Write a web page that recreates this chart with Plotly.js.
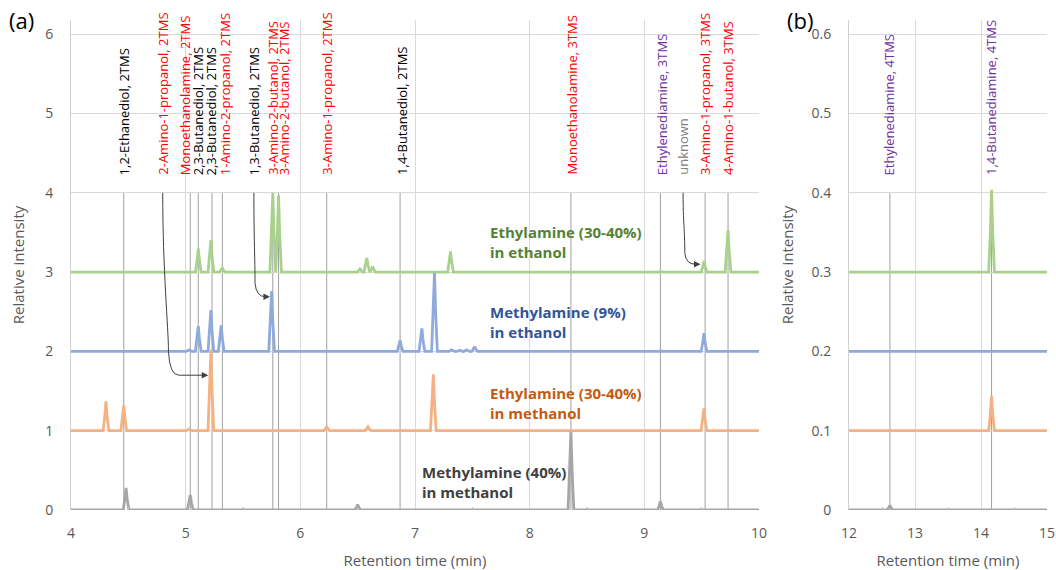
<!DOCTYPE html>
<html>
<head>
<meta charset="utf-8">
<script src="https://cdn.plot.ly/plotly-3.0.1.min.js"></script>
<style>html,body{margin:0;padding:0;background:#fff;}#chart{width:1056px;height:570px;}</style>
</head>
<body>
<div id="chart"></div>
<script>
// ---------- DATA ----------
// Series (baseline offsets in panel a / panel b)
const seriesNames = ["Ethylamine (30-40%) in ethanol", "Methylamine (9%) in ethanol", "Ethylamine (30-40%) in methanol", "Methylamine (40%) in methanol"];
const offsetsA = [3, 2, 1, 0];
const offsetsB = [0.3, 0.2, 0.1, 0];

// Panel (a) peaks: retention times (min) and heights above baseline
const greenA_t = [5.11, 5.22, 5.32, 5.76, 5.81, 6.52, 6.58, 6.63, 7.31, 9.14, 9.52, 9.73];
const greenA_h = [0.30, 0.40, 0.05, 1.00, 0.97, 0.04, 0.18, 0.07, 0.26, 0.01, 0.14, 0.53];
const blueA_t = [5.03, 5.11, 5.22, 5.31, 5.75, 6.87, 7.06, 7.17, 7.32, 7.39, 7.45, 7.52, 9.14, 9.52];
const blueA_h = [0.02, 0.32, 0.52, 0.33, 0.76, 0.14, 0.29, 0.99, 0.02, 0.015, 0.02, 0.06, 0.01, 0.23];
const orangeA_t = [4.305, 4.46, 5.03, 5.22, 6.23, 6.59, 7.16, 9.52];
const orangeA_h = [0.37, 0.32, 0.02, 1.02, 0.05, 0.05, 0.71, 0.28];
const grayA_t = [4.48, 5.04, 5.50, 6.50, 8.36, 8.50, 9.14];
const grayA_h = [0.28, 0.19, 0.01, 0.07, 0.99, 0.01, 0.11];

// Panel (b) peaks
const greenB_t = [14.16];
const greenB_h = [0.104];
const blueB_t = [];
const blueB_h = [];
const orangeB_t = [14.16];
const orangeB_h = [0.044];
const grayB_t = [12.62];
const grayB_h = [0.006];

// Compound marker lines and labels, panel (a)
const markerLinesA = [4.46, 5.04, 5.11, 5.23, 5.32, 5.76, 5.81, 6.23, 6.87, 8.36, 9.14, 9.53, 9.73];
const labelTextA = ["1,2-Ethanediol, 2TMS", "2-Amino-1-propanol, 2TMS", "Monoethanolamine, 2TMS", "2,3-Butanediol, 2TMS", "2,3-Butanediol, 2TMS", "1-Amino-2-propanol, 2TMS", "1,3-Butanediol, 2TMS", "3-Amino-2-butanol, 2TMS", "3-Amino-2-butanol, 2TMS", "3-Amino-1-propanol, 2TMS", "1,4-Butanediol, 2TMS", "Monoethanolamine, 3TMS", "Ethylenediamine, 3TMS", "unknown", "3-Amino-1-propanol, 3TMS", "4-Amino-1-butanol, 3TMS"];
const labelPosA = [4.47, 4.80, 5.00, 5.11, 5.225, 5.345, 5.60, 5.76, 5.86, 6.23, 6.886, 8.37, 9.16, 9.34, 9.53, 9.73];
const labelKindA = ["black", "red", "red", "black", "black", "red", "black", "red", "red", "red", "black", "red", "purple", "gray", "red", "red"];

// Panel (b)
const markerLinesB = [12.62, 14.16];
const labelTextB = ["Ethylenediamine, 4TMS", "1,4-Butanediamine, 4TMS"];
const labelPosB = [12.62, 14.16];
const labelKindB = ["purple", "purple"];

// Arrows (label -> peak), data coordinates in panel (a)
const arrowStartX = [4.80, 5.595, 9.338];
const arrowBendX = [4.85, 5.605, 9.353];
const arrowBendY = [2.00, 2.86, 3.24];
const arrowTipX = [5.197, 5.735, 9.49];
const arrowTipY = [1.70, 2.69, 3.10];

// ---------- STYLE ----------
const lineColors = ["#a9d18e", "#8faadc", "#f4b183", "#a6a6a6"];
const textColors = ["#548235", "#2f5597", "#c55a11", "#404040"];
const kindColor = {black: "#000000", red: "#ff0000", purple: "#7030a0", gray: "#808080"};
const FONT = "'Open Sans', sans-serif";
const profOff = [-0.025, -0.01, 0, 0.01, 0.025];
const profFrac = [0, 0.5, 1, 0.5, 0];

function buildTrace(ts, hs, base, x0, x1, scale, color, xa, ya) {
  const x = [x0], y = [base];
  ts.forEach((t, i) => {
    profOff.forEach((o, k) => { x.push(t + o * scale); y.push(base + hs[i] * profFrac[k]); });
  });
  x.push(x1); y.push(base);
  return {x, y, type: "scatter", mode: "lines", xaxis: xa, yaxis: ya,
          line: {color, width: 2.8}, hoverinfo: "skip", showlegend: false};
}

const peaksA = [[greenA_t, greenA_h], [blueA_t, blueA_h], [orangeA_t, orangeA_h], [grayA_t, grayA_h]];
const peaksB = [[greenB_t, greenB_h], [blueB_t, blueB_h], [orangeB_t, orangeB_h], [grayB_t, grayB_h]];
const traces = [];
peaksA.forEach((p, i) => traces.push(buildTrace(p[0], p[1], offsetsA[i], 4, 10, 1, lineColors[i], "x", "y")));
peaksB.forEach((p, i) => traces.push(buildTrace(p[0], p[1], offsetsB[i], 12, 15, 1.74, lineColors[i], "x2", "y2")));

const shapes = [];
markerLinesA.forEach(v => shapes.push({type: "line", xref: "x", yref: "y", x0: v, x1: v, y0: 0, y1: 4, line: {color: "#a0a0a0", width: 1}, layer: "below"}));
markerLinesB.forEach(v => shapes.push({type: "line", xref: "x2", yref: "y2", x0: v, x1: v, y0: 0, y1: 0.4, line: {color: "#a0a0a0", width: 1}, layer: "below"}));
arrowStartX.forEach((sx, i) => {
  const bx = arrowBendX[i], by = arrowBendY[i], tx = arrowTipX[i], ty = arrowTipY[i];
  const path = `M ${sx},4 C ${sx},${(4 + by) / 2} ${bx},${by + 0.3} ${bx},${by} Q ${bx + 0.01},${ty} ${bx + 0.09},${ty} L ${tx - 0.05},${ty}`;
  shapes.push({type: "path", xref: "x", yref: "y", path, line: {color: "#404040", width: 1}});
});

const annotations = [];
labelTextA.forEach((t, i) => annotations.push({xref: "x", yref: "y", x: labelPosA[i], y: 4.2, text: t, textangle: -90,
  showarrow: false, xanchor: "center", yanchor: "bottom", font: {family: FONT, size: 13, color: kindColor[labelKindA[i]]}}));
labelTextB.forEach((t, i) => annotations.push({xref: "x2", yref: "y2", x: labelPosB[i], y: 0.42, text: t, textangle: -90,
  showarrow: false, xanchor: "center", yanchor: "bottom", font: {family: FONT, size: 13, color: kindColor[labelKindB[i]]}}));
arrowTipX.forEach((tx, i) => annotations.push({xref: "x", yref: "y", axref: "x", ayref: "y", x: tx, y: arrowTipY[i],
  ax: tx - 0.06, ay: arrowTipY[i], text: "", showarrow: true, arrowhead: 2, arrowsize: 1.3, arrowwidth: 1, arrowcolor: "#404040", standoff: 0}));

const seriesLabelX = [7.635, 7.635, 7.635, 7.043];
const seriesLabelY = [3.38, 2.375, 1.35, 0.347];
const seriesLabelText = ["Ethylamine (30-40%)<br>in ethanol", "Methylamine (9%)<br>in ethanol", "Ethylamine (30-40%)<br>in methanol", "Methylamine (40%)<br>in methanol"];
seriesLabelText.forEach((t, i) => annotations.push({xref: "x", yref: "y", x: seriesLabelX[i], y: seriesLabelY[i], text: "<b>" + t + "</b>",
  showarrow: false, xanchor: "left", yanchor: "middle", align: "left", font: {family: FONT, size: 15, color: textColors[i]}}));

annotations.push({xref: "paper", yref: "paper", x: 0.007, y: 1.0, xanchor: "left", yanchor: "middle", yshift: 0, text: "(a)", showarrow: false, font: {family: FONT, size: 22, color: "#000"}});
annotations.push({xref: "paper", yref: "paper", x: 0.743, y: 1.0, xanchor: "left", yanchor: "middle", yshift: 0, text: "(b)", showarrow: false, font: {family: FONT, size: 22, color: "#000"}});

const tickFont = {family: FONT, size: 14, color: "#595959"};
const titleFont = {family: FONT, size: 15, color: "#595959"};
const gridC = "#d9d9d9";
const xCommon = {showgrid: true, gridcolor: gridC, gridwidth: 1, zeroline: false, showline: false, ticks: "", tickfont: tickFont,
  minor: {dtick: 0.5, ticks: "inside", ticklen: 3, tickcolor: "#bfbfbf", showgrid: false}, fixedrange: true, ticklabelstandoff: 13};
const yCommon = {showgrid: true, gridcolor: gridC, gridwidth: 1, zeroline: false, showline: true, linecolor: "#d0d0d0", ticks: "", tickfont: tickFont, fixedrange: true, ticklabelstandoff: 14};

const layout = {
  width: 1056, height: 570, margin: {l: 0, r: 0, t: 20, b: 60},
  paper_bgcolor: "#fff", plot_bgcolor: "#fff", showlegend: false,
  xaxis: Object.assign({}, xCommon, {domain: [71 / 1056, 759 / 1056], range: [4, 10], dtick: 1, tick0: 0,
    title: {text: "Retention time (min)", font: titleFont, standoff: 14}}),
  yaxis: Object.assign({}, yCommon, {domain: [0, 1], range: [0, 6.18], dtick: 1, tick0: 0,
    title: {text: "Relative intensity", font: titleFont, standoff: 16}}),
  xaxis2: Object.assign({}, xCommon, {domain: [849 / 1056, 1047 / 1056], range: [12, 15], dtick: 1, tick0: 0, anchor: "y2",
    title: {text: "Retention time (min)", font: titleFont, standoff: 14}}),
  yaxis2: Object.assign({}, yCommon, {domain: [0, 1], range: [0, 0.618], dtick: 0.1, tick0: 0, anchor: "x2",
    title: {text: "Relative intensity", font: titleFont, standoff: 14}}),
  shapes, annotations
};

Plotly.newPlot("chart", traces, layout, {displayModeBar: false, staticPlot: true});
</script>
</body>
</html>
